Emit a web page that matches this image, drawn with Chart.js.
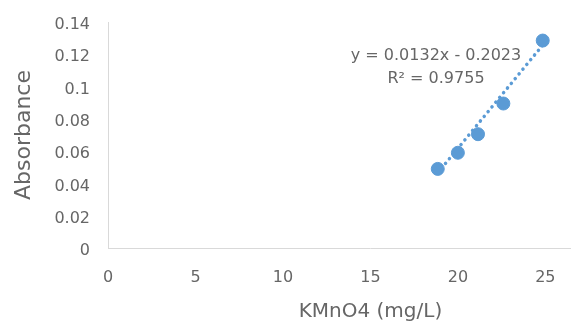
<!DOCTYPE html>
<html>
<head>
<meta charset="utf-8">
<script src="https://cdn.jsdelivr.net/npm/chart.js@4.4.0/dist/chart.umd.min.js"></script>
<style>
  html, body { margin: 0; padding: 0; background: #fff; overflow: hidden; }
  #wrap { width: 663px; height: 322px; }
</style>
</head>
<body>
<div id="wrap"><canvas id="chart" width="663" height="322"></canvas></div>
<script>
var concentrations = [18.85, 20.0, 21.15, 22.6, 24.85];
var absorbances = [0.049, 0.059, 0.0705, 0.0895, 0.1285];

// linear trendline as printed on the chart
var slope = 0.0132;
var intercept = -0.2023;
var equationText = "y = 0.0132x - 0.2023";
var r2Text = "R\u00b2 = 0.9755";

var xMin = Math.min.apply(null, concentrations);
var xMax = Math.max.apply(null, concentrations);
var trendline = [
    { x: xMin, y: slope * xMin + intercept },
    { x: xMax, y: slope * xMax + intercept },
];

var textColor = "#666666";
var blue = "#5b9bd5";
var fontFamily = "'DejaVu Sans'";

var equationLabel = {
    id: "equationLabel",
    afterDatasetsDraw: function (chart) {
        var ctx = chart.ctx;
        var x = chart.scales.x.getPixelForValue(18.75);
        var y = chart.scales.y.getPixelForValue(0.119);
        ctx.save();
        ctx.fillStyle = textColor;
        ctx.font = "16px " + fontFamily;
        ctx.textAlign = "center";
        ctx.textBaseline = "middle";
        ctx.fillText(equationText, x, y);
        ctx.fillText(r2Text, x, y + 23);
        ctx.restore();
    },
};

var ctx = document.getElementById("chart").getContext("2d");
var myChart = new Chart(ctx, {
    type: "scatter",
    data: {
        datasets: [
            {
                label: "Trendline",
                type: "line",
                data: trendline,
                borderColor: blue,
                borderWidth: 3.5,
                borderDash: [0.1, 6],
                borderCapStyle: "round",
                pointRadius: 0,
                fill: false,
                order: 2,
            },
            {
                label: "Absorbance",
                data: concentrations.map((c, i) => ({ x: c, y: absorbances[i] })),
                backgroundColor: blue,
                borderColor: blue,
                pointRadius: 6.5,
                order: 1,
            },
        ],
    },
    options: {
        responsive: false,
        animation: false,
        layout: {
            padding: { top: 22, right: 19, left: 7, bottom: 0 },
        },
        scales: {
            x: {
                type: "linear",
                min: 0,
                max: 30,
                ticks: {
                    stepSize: 5,
                    color: textColor,
                    font: { family: fontFamily, size: 16 },
                    padding: 20,
                },
                grid: { display: false, drawTicks: false },
                border: { color: "#d9d9d9", width: 1 },
                title: {
                    display: true,
                    text: "KMnO4 (mg/L)",
                    color: textColor,
                    font: { family: fontFamily, size: 20 },
                    padding: { top: 6, bottom: -1.5 },
                },
                afterFit: function (scale) {
                    scale.height = 74;
                },
            },
            y: {
                min: 0,
                max: 0.14,
                ticks: {
                    stepSize: 0.02,
                    color: textColor,
                    font: { family: fontFamily, size: 16 },
                    padding: 18,
                    labelOffset: 3,
                    callback: function (value) {
                        return String(Number(value.toFixed(2)));
                    },
                },
                grid: { display: false, drawTicks: false },
                border: { color: "#d9d9d9", width: 1 },
                title: {
                    display: true,
                    text: "Absorbance",
                    color: textColor,
                    font: { family: fontFamily, size: 22 },
                    padding: { bottom: 10 },
                },
                afterFit: function (scale) {
                    scale.width = 101;
                    scale.paddingTop = 0;
                    scale.paddingBottom = 0;
                },
            },
        },
        plugins: {
            legend: { display: false },
            tooltip: { enabled: false },
        },
    },
    plugins: [equationLabel],
});
</script>
</body>
</html>
